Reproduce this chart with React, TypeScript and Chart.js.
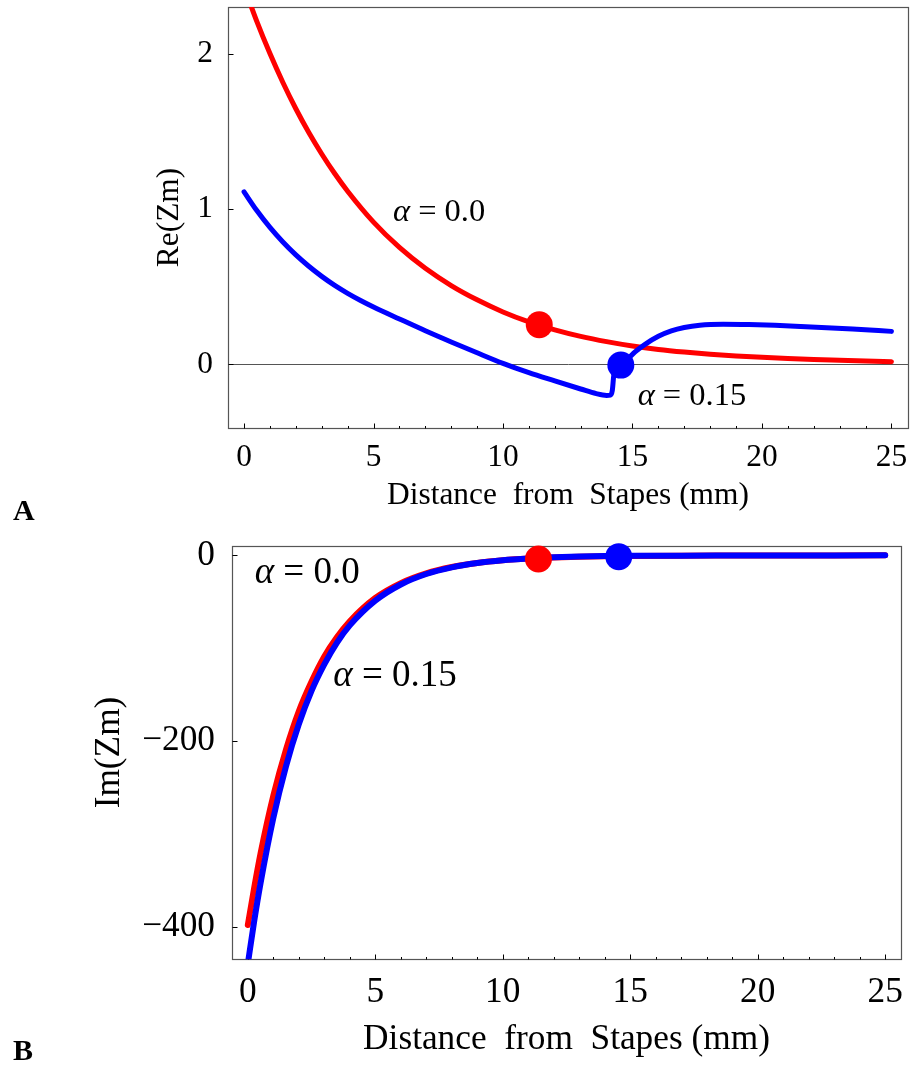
import React, { useEffect, useRef } from 'react';
import { Chart, registerables } from 'chart.js';

Chart.register(...registerables);

const FONT = '"Liberation Serif", "Times New Roman", serif';
const RED = '#ff0000';
const BLUE = '#0000ff';

// ---- shared x axis ----
const xTickValues = [0, 5, 10, 15, 20, 25];
const xMinorTicks = [0, 1, 2, 3, 4, 5, 6, 7, 8, 9, 10, 11, 12, 13, 14, 15, 16, 17, 18, 19, 20, 21, 22, 23, 24, 25];
const xTitle = 'Distance  from  Stapes (mm)';

// ---- panel A: Re(Zm) ----
const reYTicks = [0, 1, 2];
const reRedX = [0, 0.5, 1, 1.5, 2, 2.5, 3, 3.5, 4, 5, 6, 7, 8, 9, 10, 11, 12, 13, 14, 15, 16, 17, 18, 19, 20, 21, 22, 23, 24, 25];
const reRed = [2.43, 2.204, 2.0, 1.814, 1.645, 1.492, 1.354, 1.228, 1.114, 0.915, 0.752, 0.618, 0.507, 0.415, 0.337, 0.273, 0.222, 0.18, 0.146, 0.118, 0.096, 0.079, 0.065, 0.054, 0.045, 0.037, 0.031, 0.026, 0.021, 0.017];
const reBlueX = [0, 0.5, 1, 1.5, 2, 2.5, 3, 3.5, 4, 4.5, 5, 6, 7, 8, 9, 10, 11, 12, 13, 13.6, 14.0, 14.15, 14.22, 14.28, 14.4, 14.55, 14.8, 15.1, 15.5, 16, 16.5, 17, 17.6, 18.5, 19.5, 20.5, 21.5, 22.5, 23.5, 24.5, 25];
const reBlue = [1.11, 0.988, 0.881, 0.787, 0.704, 0.631, 0.566, 0.508, 0.457, 0.411, 0.369, 0.292, 0.216, 0.144, 0.074, 0.006, -0.054, -0.107, -0.159, -0.189, -0.2, -0.198, -0.17, -0.07, -0.03, -0.008, 0.03, 0.08, 0.13, 0.18, 0.215, 0.237, 0.252, 0.258, 0.256, 0.251, 0.244, 0.236, 0.227, 0.217, 0.212];
const dotX = [11.4, 14.55];
const reDotY = [0.255, -0.005];
const reLabelText = ['0.0', '0.15'];
const reLabelX = [5.75, 15.2];
const reLabelY = [0.98, -0.208];

// ---- panel B: Im(Zm) ----
const imYTicks = [0, -200, -400];
const imX = [0, 0.25, 0.5, 1, 1.5, 2, 2.5, 3, 3.5, 4, 5, 6, 7, 8, 9, 10, 11, 12, 13, 14, 15, 17, 19, 21, 23, 25];
const imRed = [-398, -358, -321, -259, -209, -168, -136, -109, -88, -71, -46, -30, -19.5, -12.7, -8.3, -5.4, -3.5, -2.3, -1.5, -1.0, -0.7, -0.4, -0.3, -0.2, -0.15, -0.1];
const imBlue = [-440, -394, -353, -283, -227, -182, -146, -117.5, -94, -75.5, -48.9, -31.5, -20.2, -13.0, -8.4, -5.4, -3.5, -2.2, -1.4, -0.9, -0.6, -0.4, -0.3, -0.2, -0.15, -0.1];
const imDotY = [-4, -1.5];
const imLabelText = ['0.0', '0.15'];
const imLabelX = [0.27, 3.35];
const imLabelY = [-19.4, -130.7];

const pts = (xs: number[], ys: number[]) => xs.map((x, i) => ({ x, y: ys[i] }));
const fmt = (v: number) => (v < 0 ? '\u2212' + Math.abs(v) : String(v));

type Panel = {
  width: number;
  height: number;
  padding: { left: number; top: number; right: number; bottom: number };
  xMin: number; xMax: number; yMin: number; yMax: number;
  yTicks: number[];
  yTitle: string;
  fontSize: number;
  annSize: number;
  lineW: number;
  xAxisH: number; xTickPad: number; xTitlePad: number;
  yAxisW: number; yTickPad: number; yTitlePad: number;
  redX: number[]; red: number[]; blueX: number[]; blue: number[];
  dotY: number[];
  labText: string[]; labX: number[]; labY: number[];
  zeroLine: boolean;
};

function makeDecor(p: Panel) {
  return {
    id: 'decor',
    beforeDatasetsDraw(chart: any) {
      const { ctx, chartArea: ca, scales } = chart;
      const xs = scales.x, ys = scales.y;
      const L = Math.round(ca.left) + 0.5, R = Math.round(ca.right) + 0.5;
      const T = Math.round(ca.top) + 0.5, B = Math.round(ca.bottom) + 0.5;
      ctx.save();
      if (p.zeroLine) {
        const y0 = Math.round(ys.getPixelForValue(0)) + 0.5;
        ctx.strokeStyle = '#555';
        ctx.lineWidth = 1;
        ctx.beginPath(); ctx.moveTo(L, y0); ctx.lineTo(R, y0); ctx.stroke();
      }
      ctx.strokeStyle = '#555';
      ctx.lineWidth = 1.2;
      ctx.strokeRect(L, T, R - L, B - T);
      ctx.strokeStyle = '#000';
      ctx.lineWidth = 1;
      ctx.beginPath();
      for (const v of xMinorTicks) {
        const px = Math.round(xs.getPixelForValue(v)) + 0.5;
        const len = xTickValues.includes(v) ? 5 : 2.5;
        ctx.moveTo(px, B); ctx.lineTo(px, B - len);
      }
      for (const v of p.yTicks) {
        const py = Math.round(ys.getPixelForValue(v)) + 0.5;
        ctx.moveTo(L, py); ctx.lineTo(L + 5, py);
      }
      ctx.stroke();
      ctx.restore();
    },
    afterDatasetsDraw(chart: any) {
      const { ctx, scales } = chart;
      ctx.save();
      ctx.fillStyle = '#000';
      ctx.textBaseline = 'middle';
      ctx.textAlign = 'left';
      p.labText.forEach((t, i) => {
        let x = scales.x.getPixelForValue(p.labX[i]);
        const y = scales.y.getPixelForValue(p.labY[i]);
        ctx.font = `italic ${p.annSize}px ${FONT}`;
        ctx.fillText('\u03b1', x, y);
        x += ctx.measureText('\u03b1').width;
        ctx.font = `${p.annSize}px ${FONT}`;
        ctx.fillText(' = ' + t, x, y);
      });
      ctx.restore();
    },
  };
}

const zeroPad = (s: any) => {
  s.paddingTop = 0;
  s.paddingBottom = 0;
  s.paddingLeft = 0;
  s.paddingRight = 0;
};

function buildConfig(p: Panel): any {
  const f = { family: FONT, size: p.fontSize };
  return {
    type: 'line',
    data: {
      datasets: [
        { data: [{ x: dotX[1], y: p.dotY[1] }], showLine: false, pointRadius: 13.5, pointBackgroundColor: BLUE, pointBorderColor: BLUE, pointBorderWidth: 0, clip: false },
        { data: [{ x: dotX[0], y: p.dotY[0] }], showLine: false, pointRadius: 13.5, pointBackgroundColor: RED, pointBorderColor: RED, pointBorderWidth: 0, clip: false },
        { data: pts(p.blueX, p.blue), borderColor: BLUE, borderWidth: p.lineW, pointRadius: 0, cubicInterpolationMode: 'monotone', borderCapStyle: 'round', borderJoinStyle: 'round', fill: false },
        { data: pts(p.redX, p.red), borderColor: RED, borderWidth: p.lineW, pointRadius: 0, cubicInterpolationMode: 'monotone', borderCapStyle: 'round', borderJoinStyle: 'round', fill: false },
      ],
    },
    options: {
      animation: false,
      responsive: false,
      events: [],
      layout: { padding: p.padding, autoPadding: false },
      plugins: { legend: { display: false }, tooltip: { enabled: false } },
      scales: {
        x: {
          type: 'linear', min: p.xMin, max: p.xMax,
          afterBuildTicks: (s: any) => { s.ticks = xTickValues.map((v) => ({ value: v })); },
          afterFit: (s: any) => { s.height = p.xAxisH; zeroPad(s); },
          grid: { display: false, drawTicks: false },
          border: { display: false },
          ticks: { font: f, color: '#000', padding: p.xTickPad, maxRotation: 0, autoSkip: false, callback: (v: number) => fmt(v) },
          title: { display: true, text: xTitle, font: f, color: '#000', padding: { top: 0, bottom: p.xTitlePad } },
        },
        y: {
          type: 'linear', min: p.yMin, max: p.yMax,
          afterBuildTicks: (s: any) => { s.ticks = p.yTicks.map((v) => ({ value: v })); },
          afterFit: (s: any) => { s.width = p.yAxisW; zeroPad(s); },
          grid: { display: false, drawTicks: false },
          border: { display: false },
          ticks: { font: f, color: '#000', padding: p.yTickPad, autoSkip: false, callback: (v: number) => fmt(v) },
          title: { display: true, text: p.yTitle, font: f, color: '#000', padding: { top: p.yTitlePad, bottom: 0 } },
        },
      },
    },
    plugins: [makeDecor(p)],
  };
}

const panelA: Panel = {
  width: 911, height: 520,
  padding: { left: 0, top: 7, right: 3, bottom: 0 },
  xMin: -0.62, xMax: 25.64, yMin: -0.41, yMax: 2.3,
  yTicks: reYTicks, yTitle: 'Re(Zm)',
  fontSize: 31.4, annSize: 32.5, lineW: 5,
  xAxisH: 92, xTickPad: 11, xTitlePad: 5,
  yAxisW: 228, yTickPad: 15, yTitlePad: 151,
  redX: reRedX, red: reRed, blueX: reBlueX, blue: reBlue,
  dotY: reDotY,
  labText: reLabelText, labX: reLabelX, labY: reLabelY,
  zeroLine: true,
};

const panelB: Panel = {
  width: 911, height: 545,
  padding: { left: 0, top: 25.7, right: 10, bottom: 0 },
  xMin: -0.62, xMax: 25.62, yMin: -435, yMax: 10.3,
  yTicks: imYTicks, yTitle: 'Im(Zm)',
  fontSize: 35.3, annSize: 37, lineW: 6,
  xAxisH: 105.7, xTickPad: 12.5, xTitlePad: 4,
  yAxisW: 232, yTickPad: 17, yTitlePad: 88.8,
  redX: imX, red: imRed, blueX: imX, blue: imBlue,
  dotY: imDotY,
  labText: imLabelText, labX: imLabelX, labY: imLabelY,
  zeroLine: false,
};

function PanelChart({ panel, top }: { panel: Panel; top: number }) {
  const ref = useRef<HTMLCanvasElement>(null);
  useEffect(() => {
    const chart = new Chart(ref.current as HTMLCanvasElement, buildConfig(panel));
    return () => chart.destroy();
  }, [panel]);
  return (
    <canvas
      ref={ref}
      width={panel.width}
      height={panel.height}
      style={{ position: 'absolute', left: 0, top, width: panel.width, height: panel.height, display: 'block' }}
    />
  );
}

const letterStyle: React.CSSProperties = {
  position: 'absolute',
  left: 13,
  fontFamily: FONT,
  fontWeight: 'bold',
  fontSize: 30,
  lineHeight: '30px',
  color: '#000',
};

export default function App() {
  return (
    <div style={{ position: 'absolute', left: 0, top: 0, width: 911, height: 1065, background: '#fff', overflow: 'hidden' }}>
      <PanelChart panel={panelA} top={0} />
      <PanelChart panel={panelB} top={520} />
      <div style={{ ...letterStyle, top: 495 }}>A</div>
      <div style={{ ...letterStyle, top: 1035 }}>B</div>
    </div>
  );
}
